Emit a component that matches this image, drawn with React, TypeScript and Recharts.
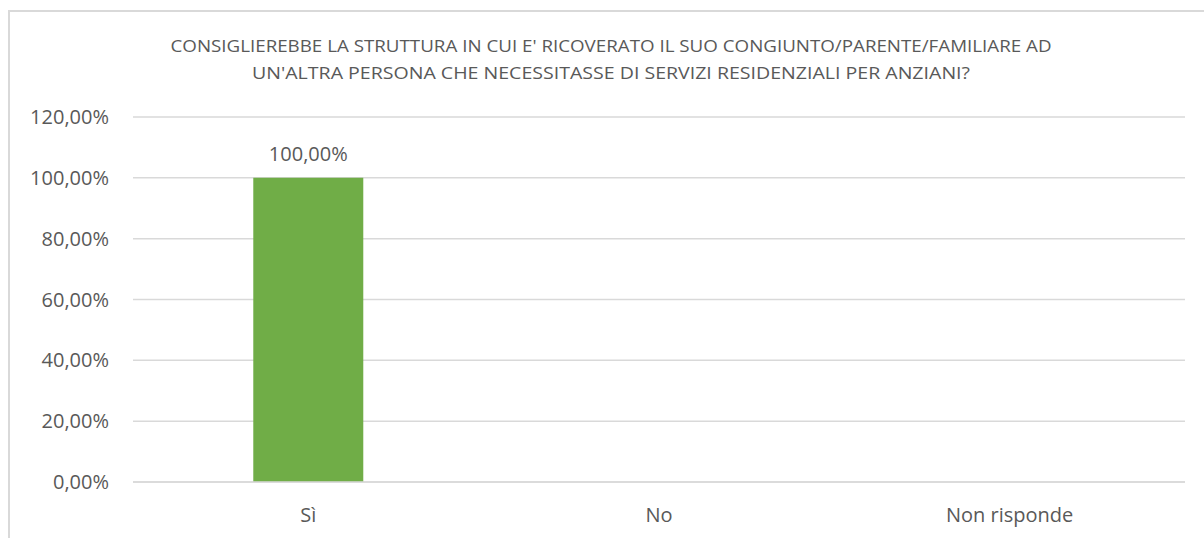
import React from 'react'
import { BarChart, Bar, XAxis, YAxis, CartesianGrid, LabelList } from 'recharts'

const categories = ['Sì', 'No', 'Non risponde']
const shares = [1, 0, 0]
const yTicks = [0, 0.2, 0.4, 0.6, 0.8, 1, 1.2]
const titleLines = [
  "CONSIGLIEREBBE LA STRUTTURA IN CUI E' RICOVERATO IL SUO CONGIUNTO/PARENTE/FAMILIARE AD",
  "UN'ALTRA PERSONA CHE NECESSITASSE DI SERVIZI RESIDENZIALI PER ANZIANI?"
]

const data = categories.map((name, i) => ({ name, value: shares[i] }))

const pct = (v: number) => (v * 100).toFixed(2).replace('.', ',') + '%'

const FONT = '"Open Sans", Calibri, sans-serif'
const GREY = '#595959'

// only the non-zero bar gets a value label, like in the original
const ValueLabel = (props: any) => {
  const { x, y, width, value } = props
  if (!value) return null
  return (
    <text x={x + width / 2} y={y - 17} textAnchor="middle" fill={GREY} fontSize={20} fontFamily={FONT}>
      {pct(value)}
    </text>
  )
}

export default function App() {
  return (
    <div style={{ position: 'relative', width: 1204, height: 538, overflow: 'hidden', background: '#fff' }}>
      <style>{'body{margin:0;overflow:hidden}'}</style>
      <div
        style={{
          position: 'absolute',
          left: 8,
          top: 10,
          width: 1220,
          height: 560,
          border: '2px solid #D9D9D9',
          boxSizing: 'border-box'
        }}
      />
      <svg width={1204} height={100} style={{ position: 'absolute', left: 0, top: 0 }}>
        <text x={611} y={52} textAnchor="middle" fill={GREY} fontSize={17} fontFamily={FONT} textLength={881} lengthAdjust="spacingAndGlyphs">
          {titleLines[0]}
        </text>
        <text x={611} y={79} textAnchor="middle" fill={GREY} fontSize={17} fontFamily={FONT} textLength={718} lengthAdjust="spacingAndGlyphs">
          {titleLines[1]}
        </text>
      </svg>
      <div style={{ position: 'absolute', left: 0, top: 0 }}>
        <BarChart
          width={1204}
          height={538}
          data={data}
          margin={{ top: 117, right: 19, bottom: 26, left: 0 }}
          barCategoryGap="34.3%"
        >
          <CartesianGrid vertical={false} stroke="#D9D9D9" strokeWidth={1.5} />
          <XAxis
            dataKey="name"
            height={30}
            axisLine={{ stroke: '#D9D9D9', strokeWidth: 1.5 }}
            tickLine={false}
            tickSize={0}
            tickMargin={26}
            tick={{ fill: GREY, fontSize: 20, fontFamily: FONT }}
          />
          <YAxis
            width={133}
            domain={[0, 1.2]}
            ticks={yTicks}
            tickFormatter={pct}
            axisLine={false}
            tickLine={false}
            tickSize={0}
            tickMargin={24}
            tick={{ fill: GREY, fontSize: 20, fontFamily: FONT }}
          />
          <Bar dataKey="value" fill="#70AD47" isAnimationActive={false}>
            <LabelList dataKey="value" content={ValueLabel} />
          </Bar>
        </BarChart>
      </div>
    </div>
  )
}
